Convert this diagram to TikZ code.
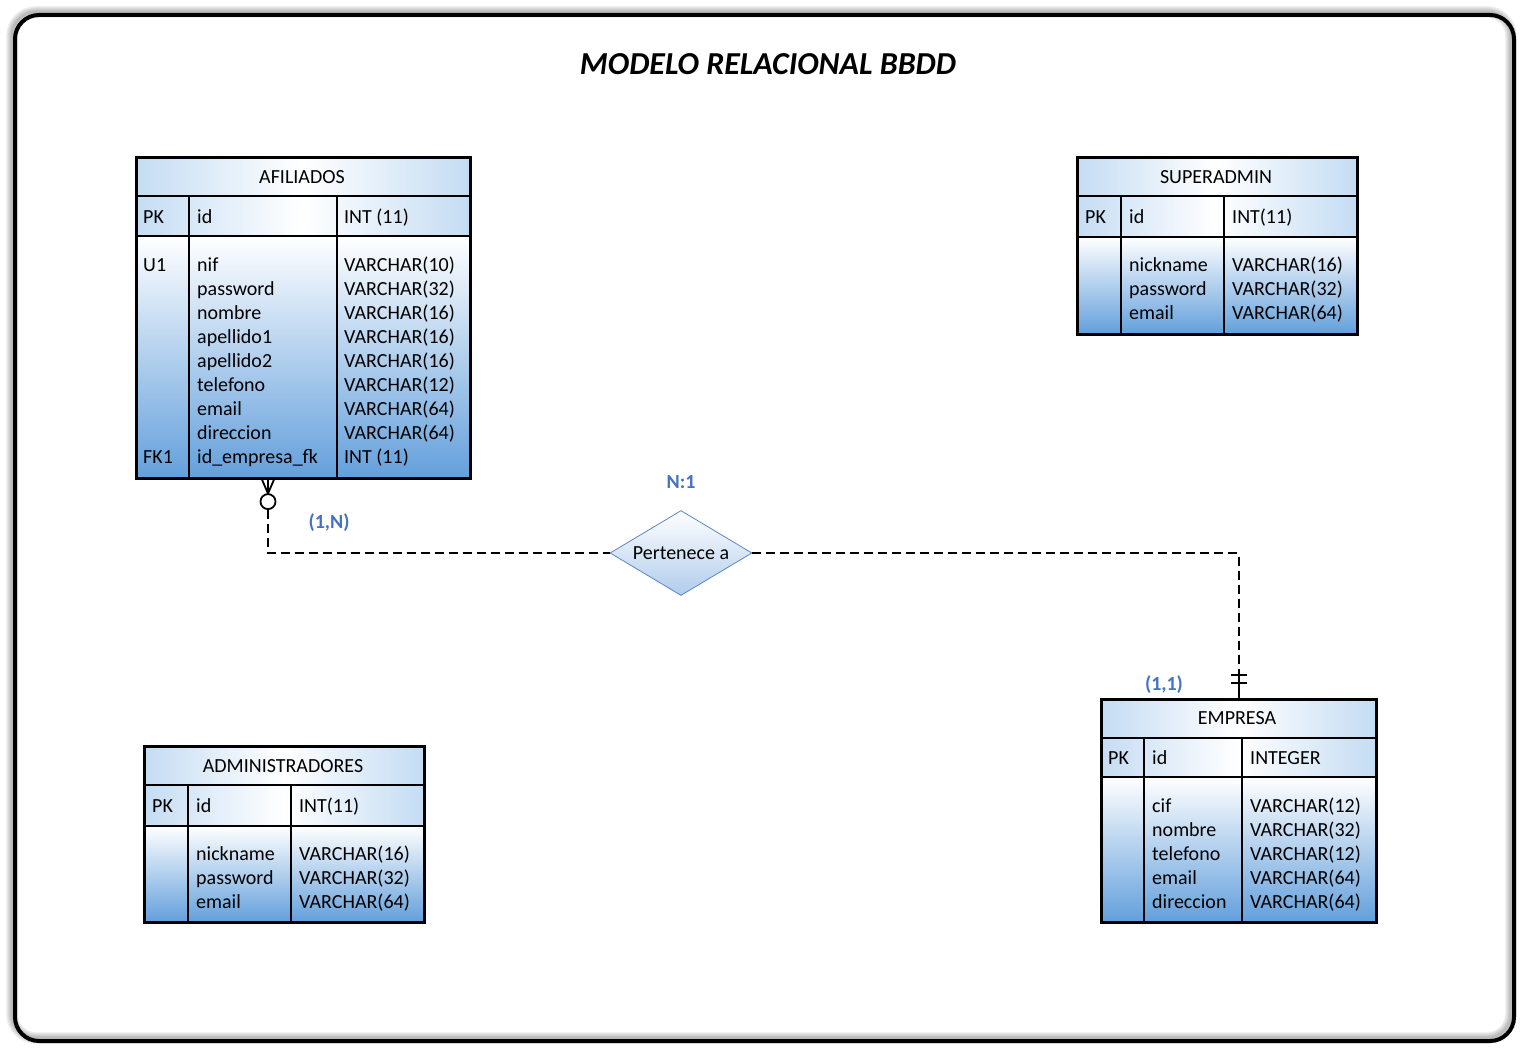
\documentclass[tikz,border=0pt]{standalone}
\usepackage{fontspec}
\setmainfont{Carlito}
\usetikzlibrary{shapes.geometric,positioning,calc}

\definecolor{erblue}{RGB}{100,160,220}
\definecolor{hdblue}{RGB}{196,220,243}
\definecolor{lblblue}{RGB}{68,114,196}
\definecolor{dmblue}{RGB}{92,134,196}
\definecolor{dmfill}{RGB}{176,204,236}

\begin{document}
\begin{tikzpicture}[x=1pt,y=-1pt,
font=\fontsize{20}{24}\selectfont,
tabline/.style={line width=2.6pt},
hdfill/.style={left color=hdblue, right color=hdblue, middle color=white},
bodyfill/.style={top color=white, bottom color=erblue},
tabframe/.style={draw, line width=2.6pt, inner sep=0pt, anchor=north west},
txt/.style={inner sep=0pt, anchor=base west},
hdtxt/.style={inner sep=0pt, anchor=base},
card/.style={text=lblblue, font=\fontsize{20}{24}\selectfont\bfseries, inner sep=0pt},
relation/.style={diamond, draw=dmblue, line width=0.8pt, top color=white, bottom color=dmfill,
  aspect=1.67, minimum width=142pt, minimum height=85pt, inner sep=0pt},
rel/.style={line width=2.5pt, dash pattern=on 9pt off 5pt},
notation/.style={line width=1.8pt},]
\useasboundingbox (0,0) rectangle (1523,1049);

% marco
\foreach \k in {1,...,6}
  \draw[black, opacity=0.05, line width=2*\k pt, rounded corners=24pt] (12,12) rectangle (1511,1038);
\draw[line width=4pt, rounded corners=24pt] (15,15) rectangle (1514,1041);

\node[font=\fontsize{32}{38}\selectfont\bfseries\itshape] (title) at (768,64) {MODELO RELACIONAL BBDD};

% AFILIADOS
\shade[hdfill] (135,156) rectangle (469,196);
\shade[hdfill] (135,196) rectangle (469,236);
\shade[bodyfill] (135,236) rectangle (469,477);
\node[tabframe, minimum width=334pt, minimum height=321pt] (afiliados) at (135,156) {};
\draw[tabline] (135,196) -- (469,196) (135,236) -- (469,236) (189,196) -- (189,477) (337,196) -- (337,477);
\node[hdtxt] (afi-title) at (302,183) {AFILIADOS};
\node[txt] (afi-pk) at (143,223) {PK};
\node[txt] (afi-id) at (197,223) {id};
\node[txt] (afi-idtype) at (344,223) {INT (11)};
\node[txt] (afi-u1) at (143,271) {U1};
\node[txt] (afi-fk1) at (143,463) {FK1};
\foreach \name/\type [count=\i] in {nif/VARCHAR(10),password/VARCHAR(32),nombre/VARCHAR(16),
  apellido1/VARCHAR(16),apellido2/VARCHAR(16),telefono/VARCHAR(12),email/VARCHAR(64),
  direccion/VARCHAR(64),id\_empresa\_fk/INT (11)}
{
  \node[txt] (afi-f\i) at (197,247+24*\i) {\name};
  \node[txt] (afi-t\i) at (344,247+24*\i) {\type};
}

% SUPERADMIN
\shade[hdfill] (1076,156) rectangle (1356,196);
\shade[hdfill] (1076,196) rectangle (1356,237);
\shade[bodyfill] (1076,237) rectangle (1356,333);
\node[tabframe, minimum width=280pt, minimum height=177pt] (superadmin) at (1076,156) {};
\draw[tabline] (1076,196) -- (1356,196) (1076,237) -- (1356,237) (1121,196) -- (1121,333) (1224,196) -- (1224,333);
\node[hdtxt] (sup-title) at (1216,183) {SUPERADMIN};
\node[txt] (sup-pk) at (1085,223) {PK};
\node[txt] (sup-id) at (1129,223) {id};
\node[txt] (sup-idtype) at (1232,223) {INT(11)};
\foreach \name/\type [count=\i] in {nickname/VARCHAR(16),password/VARCHAR(32),email/VARCHAR(64)}
{
  \node[txt] (sup-f\i) at (1129,247+24*\i) {\name};
  \node[txt] (sup-t\i) at (1232,247+24*\i) {\type};
}

% ADMINISTRADORES
\shade[hdfill] (143,745) rectangle (423,785);
\shade[hdfill] (143,785) rectangle (423,826);
\shade[bodyfill] (143,826) rectangle (423,921);
\node[tabframe, minimum width=280pt, minimum height=176pt] (administradores) at (143,745) {};
\draw[tabline] (143,785) -- (423,785) (143,826) -- (423,826) (188,785) -- (188,921) (291,785) -- (291,921);
\node[hdtxt] (adm-title) at (283,772) {ADMINISTRADORES};
\node[txt] (adm-pk) at (152,812) {PK};
\node[txt] (adm-id) at (196,812) {id};
\node[txt] (adm-idtype) at (299,812) {INT(11)};
\foreach \name/\type [count=\i] in {nickname/VARCHAR(16),password/VARCHAR(32),email/VARCHAR(64)}
{
  \node[txt] (adm-f\i) at (196,836+24*\i) {\name};
  \node[txt] (adm-t\i) at (299,836+24*\i) {\type};
}

% EMPRESA
\shade[hdfill] (1100,698) rectangle (1375,738);
\shade[hdfill] (1100,738) rectangle (1375,777);
\shade[bodyfill] (1100,777) rectangle (1375,921);
\node[tabframe, minimum width=275pt, minimum height=223pt] (empresa) at (1100,698) {};
\draw[tabline] (1100,738) -- (1375,738) (1100,777) -- (1375,777) (1144,738) -- (1144,921) (1242,738) -- (1242,921);
\node[hdtxt] (emp-title) at (1237,724) {EMPRESA};
\node[txt] (emp-pk) at (1108,764) {PK};
\node[txt] (emp-id) at (1152,764) {id};
\node[txt] (emp-idtype) at (1250,764) {INTEGER};
\foreach \name/\type [count=\i] in {cif/VARCHAR(12),nombre/VARCHAR(32),telefono/VARCHAR(12),
  email/VARCHAR(64),direccion/VARCHAR(64)}
{
  \node[txt] (emp-f\i) at (1152,788+24*\i) {\name};
  \node[txt] (emp-t\i) at (1250,788+24*\i) {\type};
}

% relacion
\node[relation] (pertenece) at (681,553) {Pertenece a};
\node[card] (card-n1) at (681,482) {N:1};
\node[card] (card-1n) at (329,523) {(1,N)};
\node[card] (card-11) at (1164,685) {(1,1)};

\coordinate (afi-fk) at ([xshift=133pt]afiliados.south west);
\draw[rel] ([yshift=-30pt]afi-fk) |- (pertenece.west);
\draw[rel] (pertenece.east) -| ([yshift=28pt]empresa.north);

% cero o muchos
\draw[notation] ([xshift=-6pt]afi-fk) -- ([yshift=-14pt]afi-fk) -- ([xshift=6pt]afi-fk)
  ([yshift=-14pt]afi-fk) -- (afi-fk);
\draw[notation, fill=white] ([yshift=-22pt]afi-fk) circle (7.5pt);
% uno y solo uno
\draw[notation] ([yshift=28pt]empresa.north) -- (empresa.north);
\draw[notation] ([xshift=-8pt,yshift=23pt]empresa.north) -- ++(16,0);
\draw[notation] ([xshift=-8pt,yshift=15pt]empresa.north) -- ++(16,0);

\end{tikzpicture}
\end{document}
